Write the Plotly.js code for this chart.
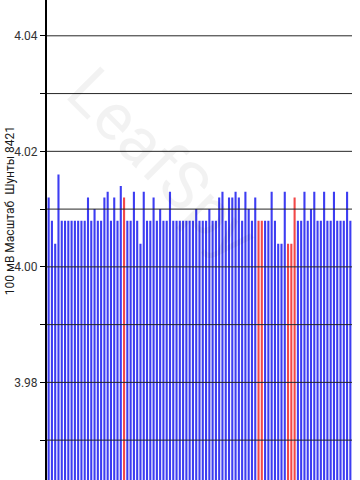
<!DOCTYPE html>
<html>
<head>
<meta charset="utf-8">
<script src="https://cdn.plot.ly/plotly-3.0.1.min.js"></script>
<style>
  html, body { margin: 0; padding: 0; background: #ffffff; }
  #chart { width: 360px; height: 480px; }
</style>
</head>
<body>
<div id="chart"></div>
<script>
// Cell voltages (V), one bar per cell
const cellVoltages = [
  4.012, 4.008, 4.004, 4.016, 4.008, 4.008, 4.008, 4.008, 4.008, 4.008,
  4.008, 4.008, 4.012, 4.008, 4.010, 4.008, 4.008, 4.012, 4.013, 4.008,
  4.012, 4.008, 4.014, 4.012, 4.008, 4.008, 4.013, 4.008, 4.004, 4.013,
  4.008, 4.008, 4.012, 4.008, 4.010, 4.008, 4.008, 4.013, 4.008, 4.008,
  4.008, 4.008, 4.008, 4.008, 4.008, 4.010, 4.008, 4.008, 4.008, 4.010,
  4.008, 4.008, 4.012, 4.013, 4.008, 4.012, 4.012, 4.013, 4.012, 4.008,
  4.013, 4.010, 4.008, 4.012, 4.008, 4.008, 4.008, 4.008, 4.013, 4.008,
  4.004, 4.004, 4.013, 4.004, 4.004, 4.012, 4.008, 4.008, 4.013, 4.008,
  4.010, 4.013, 4.008, 4.008, 4.013, 4.008, 4.008, 4.013, 4.008, 4.008,
  4.008, 4.013, 4.008
];
// Cells whose shunt is active (drawn red)
const shuntCells = [23, 64, 65, 73, 74, 75];
const cellNumbers = cellVoltages.map((v, i) => i + 1);

// Axis ticks
const gridValues = [3.97, 3.98, 3.99, 4.00, 4.01, 4.02, 4.03, 4.04];
const gridLabels = ["", "3.98", "", "4.00", "", "4.02", "", "4.04"];
const yTitle = "100 мВ Масштаб  Шунты 8421";
const watermark = "LeafSpy";

const BLUE = "#3d3df2";
const RED = "#f24848";
const barColors = cellVoltages.map((v, i) => shuntCells.includes(i) ? RED : BLUE);

const trace = {
  type: "bar",
  x: cellNumbers,
  y: cellVoltages,
  marker: { color: barColors, line: { width: 0 } },
  hoverinfo: "x+y"
};

const gridShapes = gridValues.map(v => ({
  type: "line", xref: "paper", yref: "y",
  x0: 0, x1: 1, y0: v, y1: v,
  line: { color: "#262626", width: 1 },
  layer: "above"
}));

const layout = {
  width: 360, height: 480,
  margin: { l: 47, r: 8, t: 0, b: 0 },
  paper_bgcolor: "#ffffff",
  plot_bgcolor: "#ffffff",
  showlegend: false,
  bargap: 0.36,
  xaxis: {
    range: [0.5, cellVoltages.length + 0.5],
    showgrid: false, zeroline: false, showline: false,
    showticklabels: false, ticks: ""
  },
  yaxis: {
    range: [3.9631, 4.0462],
    tickvals: gridValues,
    ticktext: gridLabels,
    showgrid: false,
    zeroline: false,
    showline: true, linecolor: "#000000", linewidth: 2,
    ticks: "outside", ticklen: 5, tickwidth: 1, tickcolor: "#000000",
    tickfont: { family: "Roboto, 'DejaVu Sans', sans-serif", size: 12, color: "#333333" },
    layer: "above traces"
  },
  shapes: gridShapes,
  annotations: [
    {
      text: yTitle, textangle: -90,
      xref: "paper", yref: "paper",
      x: -0.1213, y: 0.56, xanchor: "center", yanchor: "middle",
      showarrow: false,
      font: { family: "Roboto, 'DejaVu Sans', sans-serif", size: 12, color: "#1a1a1a" }
    },
    {
      text: watermark, textangle: 45,
      xref: "paper", yref: "paper",
      x: (163 - 47) / 305, y: (480 - 163) / 480,
      xanchor: "center", yanchor: "middle",
      showarrow: false,
      font: { family: "Roboto, 'DejaVu Sans', sans-serif", size: 66, color: "rgba(0,0,0,0.05)" }
    }
  ]
};

Plotly.newPlot("chart", [trace], layout, { displayModeBar: false, staticPlot: true });
</script>
</body>
</html>
